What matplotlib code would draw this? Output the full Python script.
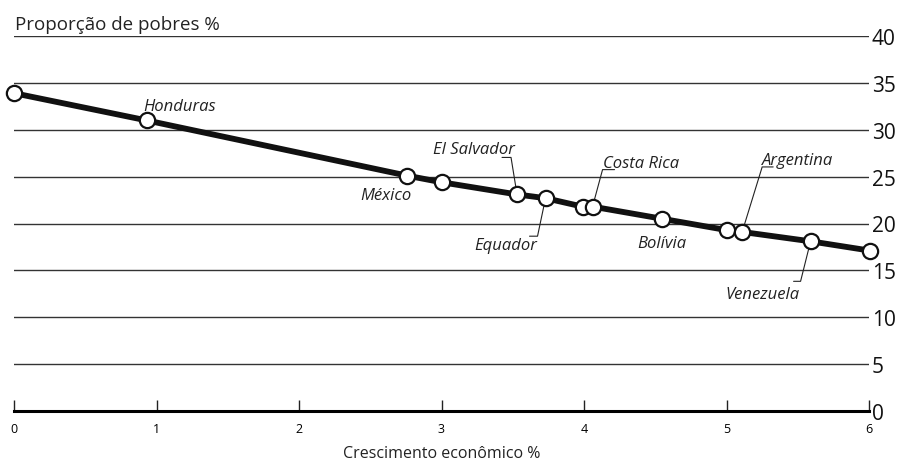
import numpy as np
import matplotlib
matplotlib.use("Agg")
from matplotlib import pyplot as plt

# crescimento economico (%) x proporcao de pobres (%)
crescimento = [0.0, 0.93, 2.76, 3.00, 3.53, 3.73, 3.99, 4.06, 4.55, 5.00, 5.11, 5.59, 6.01]
pobres = [33.9, 31.0, 25.1, 24.4, 23.1, 22.7, 21.8, 21.8, 20.5, 19.3, 19.1, 18.1, 17.1]
paises = ["", "Honduras", "México", "", "El Salvador", "Equador", "", "Costa Rica",
          "Bolívia", "", "Argentina", "Venezuela", "Peru"]

x_ticks = [0, 1, 2, 3, 4, 5, 6]
y_ticks = [0, 5, 10, 15, 20, 25, 30, 35, 40]

# label placement in pixels relative to the point: (dx, dy, ha)
label_pos = {
    "Honduras": (-3, 10, "left"),
    "México": (4, -23, "right"),
    "El Salvador": (-2, 41, "right"),
    "Equador": (-8, -51, "right"),
    "Costa Rica": (10, 40, "left"),
    "Bolívia": (-25, -28, "left"),
    "Argentina": (20, 68, "left"),
    "Venezuela": (-85, -57, "left"),
    "Peru": (-19, 37, "right"),
}
# leader lines: free end and corner, pixels relative to the point
leaders = {
    "El Salvador": ((-15, 37), (-6, 37)),
    "Equador": ((-16, -38), (-8, -38)),
    "Costa Rica": ((22, 37), (10, 37)),
    "Argentina": ((31, 65), (20, 65)),
    "Peru": ((-31, 35), (-17, 35)),
    "Venezuela": ((-17, -40), (-10, -40)),
}

plt.rcParams['font.family'] = ['Open Sans', 'DejaVu Sans']

fig = plt.figure(figsize=(9.02, 4.64), dpi=100)
ax = fig.add_axes([14/902, 1-412/464, 855/902, 375/464])

ax.set_xlim(0, 6)
ax.set_ylim(0, 40)
ax.set_yticks(y_ticks)
ax.set_xticks(x_ticks)
ax.set_xticklabels([str(t) for t in x_ticks], fontsize=9)
ax.yaxis.tick_right()
ax.tick_params(axis='y', length=0, pad=2, labelsize=15, labelcolor='#111111')
ax.tick_params(axis='x', direction='in', length=8, width=1, pad=8, color='#222222')
ax.grid(axis='y', color='#333333', linewidth=1)
ax.set_axisbelow(True)
for s in ['top', 'left', 'right']:
    ax.spines[s].set_visible(False)
ax.spines['bottom'].set_linewidth(2.2)

ax.plot(crescimento, pobres, color='#111111', lw=4.2, marker='o', markersize=11,
        markerfacecolor='white', markeredgecolor='#111111', markeredgewidth=1.6,
        clip_on=False, zorder=5)

for x, y, nome in zip(crescimento, pobres, paises):
    if not nome:
        continue
    dx, dy, ha = label_pos[nome]
    ax.annotate(nome, (x, y), xytext=(dx, dy), textcoords='offset pixels',
                ha=ha, va='baseline', fontsize=12, style='italic', color='#222222')
    if nome in leaders:
        (ax_, ay_), (cx, cy) = leaders[nome]
        angB = np.degrees(np.arctan2(cy, cx))
        ax.annotate('', (x, y), xytext=(ax_, ay_), textcoords='offset pixels',
                    arrowprops=dict(arrowstyle='-', lw=0.8, color='#222222',
                                    shrinkA=0, shrinkB=5.5,
                                    connectionstyle=f"angle,angleA=0,angleB={angB},rad=0"))

fig.text(15/902, 1-30/464, "Proporção de pobres %", fontsize=13.5, color='#222222', va='baseline')
ax.set_xlabel("Crescimento econômico %", fontsize=11.5, labelpad=7, color='#222222')

plt.savefig("out.png", dpi=100)
